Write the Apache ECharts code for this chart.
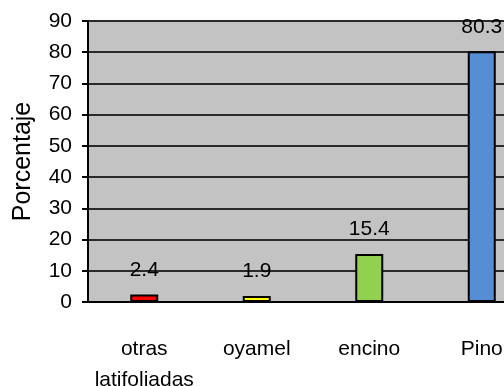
<!DOCTYPE html>
<html>
<head>
<meta charset="utf-8">
<script src="https://cdn.jsdelivr.net/npm/echarts@6/dist/echarts.min.js"></script>
<style>
  html, body { margin: 0; padding: 0; background: #fff; }
  #chart { width: 504px; height: 386px; }
</style>
</head>
<body>
<div id="chart"></div>
<script>
const categories = ['otras\nlatifoliadas', 'oyamel', 'encino', 'Pino'];
const values = [2.4, 1.9, 15.4, 80.3];
const barColors = ['#ff0000', '#ffff00', '#92d050', '#558ed5'];

const FONT = '"Liberation Sans", Arial, sans-serif';

const chart = echarts.init(document.getElementById('chart'));

const option = {
  backgroundColor: '#ffffff',
  animation: false,
  grid: {
    left: 88,
    top: 21,
    width: 450,
    height: 281,
    outerBoundsMode: 'none',
    containLabel: false,
    show: true,
    backgroundColor: '#c3c3c3',
    borderColor: '#8a8a8a',
    borderWidth: 1
  },
  xAxis: {
    type: 'category',
    data: categories,
    axisLine: { lineStyle: { color: '#000', width: 2 } },
    axisTick: { show: false },
    axisLabel: {
      interval: 0,
      color: '#000',
      fontFamily: FONT,
      fontSize: 21,
      lineHeight: 31,
      margin: 32
    }
  },
  yAxis: {
    type: 'value',
    min: 0,
    max: 90,
    interval: 10,
    name: 'Porcentaje',
    nameLocation: 'middle',
    nameGap: 52,
    nameTextStyle: { color: '#000', fontFamily: FONT, fontSize: 25 },
    axisLine: { show: true, lineStyle: { color: '#000', width: 2 } },
    axisTick: { show: true, length: 6, lineStyle: { color: '#000', width: 2 } },
    axisLabel: { color: '#000', fontFamily: FONT, fontSize: 21, margin: 16 },
    splitLine: { show: true, lineStyle: { color: '#2a2a2a', width: 2 } }
  },
  series: [
    {
      type: 'bar',
      barWidth: 28,
      data: values.map((v, i) => ({
        value: v,
        itemStyle: { color: barColors[i] }
      })),
      itemStyle: { borderColor: '#000', borderWidth: 2 },
      label: {
        show: true,
        position: 'top',
        distance: 14,
        color: '#000',
        fontFamily: FONT,
        fontSize: 21
      }
    }
  ]
};

chart.setOption(option);
</script>
</body>
</html>
